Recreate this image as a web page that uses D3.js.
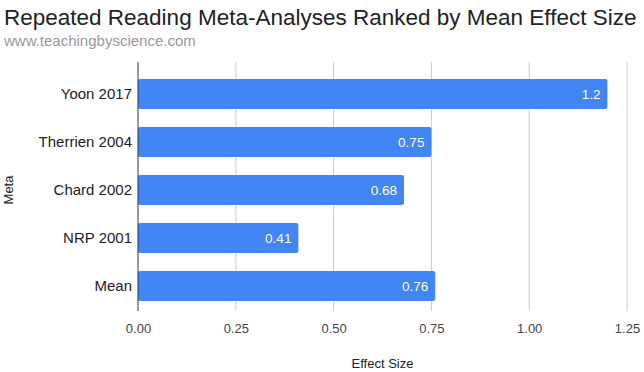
<!doctype html>
<meta charset="utf-8">
<style>
    body { margin: 0; background: #fff; }
    text { font-family: "Liberation Sans", Arial, sans-serif; }
</style>
<body>
<script src="https://d3js.org/d3.v7.min.js"></script>
<script>
    const categories = ['Yoon 2017', 'Therrien 2004', 'Chard 2002', 'NRP 2001', 'Mean'];
    const values = [1.2, 0.75, 0.68, 0.41, 0.76];
    const valueLabels = ['1.2', '0.75', '0.68', '0.41', '0.76'];
    const ticks = [0, 0.25, 0.5, 0.75, 1.0, 1.25];

    const width = 644, height = 372;
    const margin = {top: 62, right: 17, bottom: 60, left: 138};

    const svg = d3.select('body').append('svg')
        .attr('width', width)
        .attr('height', height);

    // title + subtitle
    svg.append('text').attr('x', 4).attr('y', 25)
        .attr('font-size', 22.5).attr('fill', '#222')
        .text('Repeated Reading Meta-Analyses Ranked by Mean Effect Size');
    svg.append('text').attr('x', 4).attr('y', 46)
        .attr('font-size', 15).attr('fill', '#999')
        .text('www.teachingbyscience.com');

    const x = d3.scaleLinear().domain([0, 1.25]).range([margin.left, width - margin.right]);
    const y = d3.scaleBand().domain(categories).range([70, 310]).paddingInner(0.375).paddingOuter(0.1875);

    // gridlines
    svg.append('g').selectAll('line')
        .data(ticks.slice(1))
        .enter().append('line')
        .attr('x1', d => x(d)).attr('x2', d => x(d))
        .attr('y1', 62).attr('y2', 311)
        .attr('stroke', '#ccc').attr('stroke-width', 1);

    // bars
    const data = categories.map((c, i) => ({name: c, value: values[i], label: valueLabels[i]}));
    svg.append('g').selectAll('rect')
        .data(data)
        .enter().append('rect')
        .attr('x', x(0))
        .attr('y', d => y(d.name))
        .attr('width', d => x(d.value) - x(0))
        .attr('height', y.bandwidth())
        .attr('rx', 2)
        .attr('fill', '#4285f4');

    // value labels
    svg.append('g').selectAll('text')
        .data(data)
        .enter().append('text')
        .attr('x', d => x(d.value) - 7)
        .attr('y', d => y(d.name) + y.bandwidth() / 2 + 5)
        .attr('text-anchor', 'end')
        .attr('font-family', 'Roboto, sans-serif')
        .attr('font-size', 13.5).attr('fill', '#fff')
        .text(d => d.label);

    // baseline
    svg.append('line')
        .attr('x1', x(0)).attr('x2', x(0))
        .attr('y1', 62).attr('y2', 311)
        .attr('stroke', '#333').attr('stroke-width', 1);

    // x axis
    const xAxis = svg.append('g')
        .attr('transform', `translate(0, 311)`)
        .call(d3.axisBottom(x).tickValues(ticks).tickFormat(d3.format('.2f')).tickSize(0).tickPadding(13));
    xAxis.select('.domain').remove();
    xAxis.selectAll('text').attr('font-size', 13).attr('fill', '#444')
        .attr('font-family', '"Liberation Sans", Arial, sans-serif');

    // y axis
    const yAxis = svg.append('g')
        .attr('transform', `translate(${margin.left}, 0)`)
        .call(d3.axisLeft(y).tickSize(0).tickPadding(6));
    yAxis.select('.domain').remove();
    yAxis.selectAll('text').attr('font-size', 15).attr('fill', '#222')
        .attr('font-family', '"Liberation Sans", Arial, sans-serif');

    // axis titles
    svg.append('text').attr('x', x(0.625)).attr('y', 368)
        .attr('text-anchor', 'middle').attr('font-size', 13).attr('fill', '#222')
        .text('Effect Size');
    svg.append('text')
        .attr('transform', `translate(13, ${(70 + 310) / 2}) rotate(-90)`)
        .attr('text-anchor', 'middle').attr('font-size', 13).attr('fill', '#222')
        .text('Meta');
</script>
